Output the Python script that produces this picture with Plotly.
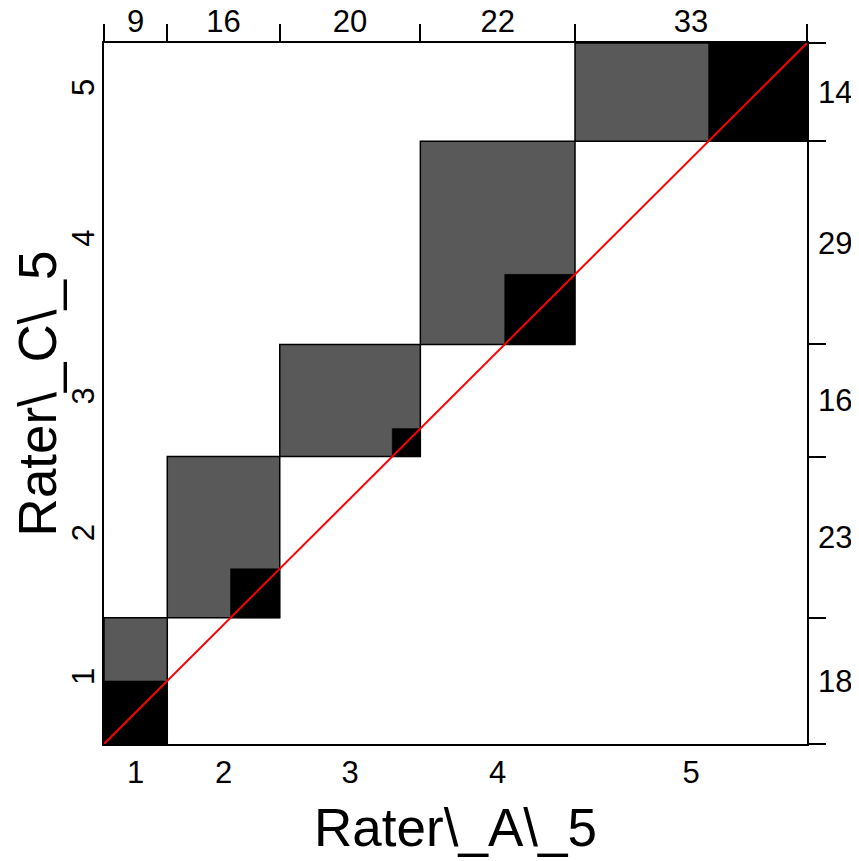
import numpy as np
import plotly.graph_objects as go

# Category levels
rater_a_levels = ["1", "2", "3", "4", "5"]
rater_c_levels = ["1", "2", "3", "4", "5"]

# Contingency counts: rows = Rater_C level, columns = Rater_A level
row_c1 = [9, 9, 0, 0, 0]
row_c2 = [0, 7, 16, 0, 0]
row_c3 = [0, 0, 4, 12, 0]
row_c4 = [0, 0, 0, 10, 19]
row_c5 = [0, 0, 0, 0, 14]

tab = np.array([row_c1, row_c2, row_c3, row_c4, row_c5])
col_tot = tab.sum(axis=0)
row_tot = tab.sum(axis=1)
N = int(tab.sum())
xb = np.concatenate([[0], np.cumsum(col_tot)])
yb = np.concatenate([[0], np.cumsum(row_tot)])
xc = (xb[:-1] + xb[1:]) / 2
yc = (yb[:-1] + yb[1:]) / 2

GRAY = "#595959"
FONT = "Liberation Sans, Arial, sans-serif"

fig = go.Figure()


def rect(x0, x1, y0, y1, fill, linecolor, lw):
    fig.add_trace(go.Scatter(
        x=[x0, x1, x1, x0, x0], y=[y0, y0, y1, y1, y0],
        mode="lines", fill="toself", fillcolor=fill,
        line=dict(color=linecolor, width=lw),
        hoverinfo="skip", showlegend=False,
    ))


k = len(col_tot)
# marginal rectangles (gray)
for i in range(k):
    rect(xb[i], xb[i + 1], yb[i], yb[i + 1], GRAY, "black", 1.5)
# observed agreement (black)
for i in range(k):
    d = tab[i, i]
    x0 = xb[i] + tab[:i, i].sum()
    y0 = yb[i] + tab[i, :i].sum()
    rect(x0, x0 + d, y0, y0 + d, "black", "black", 0.5)

# diagonal reference line
fig.add_trace(go.Scatter(x=[0, N], y=[0, N], mode="lines",
                         line=dict(color="red", width=2),
                         hoverinfo="skip", showlegend=False))
# invisible trace for secondary axes
fig.add_trace(go.Scatter(x=[0], y=[0], xaxis="x2", yaxis="y2", mode="markers",
                         marker=dict(opacity=0), hoverinfo="skip", showlegend=False))

tickfont = dict(family=FONT, size=31, color="black")
minor_common = dict(tickmode="array", ticks="outside", ticklen=17,
                    tickwidth=1.5, tickcolor="black", showgrid=False)

fig.update_layout(
    width=851, height=853,
    margin=dict(l=96, r=52, t=35, b=117, autoexpand=False),
    paper_bgcolor="white", plot_bgcolor="white",
    showlegend=False,
    font=dict(family=FONT, color="black"),
    xaxis=dict(
        range=[0, N], showgrid=False, zeroline=False, automargin=False,
        showline=True, linecolor="black", linewidth=1.5,
        tickmode="array", tickvals=xc, ticktext=rater_a_levels,
        ticks="", tickfont=tickfont, ticklabelstandoff=0,
        title=dict(text="Rater\\_A\\_5", font=dict(family=FONT, size=53, color="black"),
                   standoff=20),
    ),
    yaxis=dict(
        range=[0, N], showgrid=False, zeroline=False, automargin=False,
        showline=True, linecolor="black", linewidth=1.5,
        tickmode="array", tickvals=yc, ticktext=rater_c_levels,
        ticks="", tickfont=tickfont, tickangle=-90, ticklabelstandoff=-4,
        title=dict(text="Rater\\_C\\_5", font=dict(family=FONT, size=53, color="black"),
                   standoff=6),
    ),
    xaxis2=dict(
        range=[0, N], overlaying="x", side="top", showgrid=False, zeroline=False,
        automargin=False,
        showline=True, linecolor="black", linewidth=1.5,
        tickmode="array", tickvals=xc, ticktext=[str(v) for v in col_tot],
        ticks="", tickfont=tickfont, ticklabelstandoff=-3,
        minor=dict(tickvals=list(xb), **minor_common),
    ),
    yaxis2=dict(
        range=[0, N], overlaying="y", side="right", showgrid=False, zeroline=False,
        automargin=False,
        showline=True, linecolor="black", linewidth=1.5,
        tickmode="array", tickvals=yc, ticktext=[str(v) for v in row_tot],
        ticks="", tickfont=tickfont, ticklabelstandoff=3,
        minor=dict(tickvals=list(yb), **minor_common),
    ),
)

fig.write_html("out.html")
